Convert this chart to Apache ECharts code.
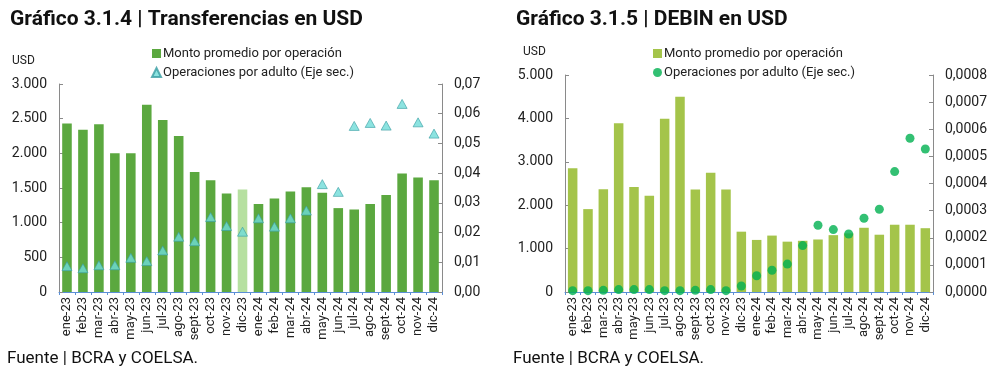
<!DOCTYPE html>
<html>
<head>
<meta charset="utf-8">
<script src="https://cdn.jsdelivr.net/npm/echarts@6/dist/echarts.min.js"></script>
<style>
  html, body { margin: 0; padding: 0; background: #fff; }
  #chart { width: 992px; height: 378px; }
</style>
</head>
<body>
<div id="chart"></div>
<script>
  // months shared by both panels
  var months = ['ene-23', 'feb-23', 'mar-23', 'abr-23', 'may-23', 'jun-23', 'jul-23', 'ago-23',
    'sept-23', 'oct-23', 'nov-23', 'dic-23', 'ene-24', 'feb-24', 'mar-24', 'abr-24', 'may-24',
    'jun-24', 'jul-24', 'ago-24', 'sept-24', 'oct-24', 'nov-24', 'dic-24'];

  // Gráfico 3.1.4 - Transferencias
  var transfMonto = [2430, 2340, 2420, 2000, 2000, 2700, 2480, 2250, 1730, 1610, 1420, 1480,
    1270, 1350, 1450, 1510, 1430, 1210, 1190, 1270, 1400, 1710, 1650, 1610];
  var transfOper = [0.0087, 0.0080, 0.0090, 0.0090, 0.0115, 0.0104, 0.0140, 0.0186, 0.0171,
    0.0252, 0.0222, 0.0203, 0.0248, 0.0220, 0.0248, 0.0274, 0.0363, 0.0337, 0.0559, 0.0569,
    0.0560, 0.0633, 0.0571, 0.0533];
  var transfHighlight = 'dic-23';

  // Gráfico 3.1.5 - DEBIN
  var debinMonto = [2850, 1910, 2370, 3890, 2420, 2220, 3990, 4500, 2360, 2750, 2360, 1390,
    1200, 1300, 1160, 1180, 1210, 1310, 1350, 1480, 1320, 1550, 1550, 1470];
  var debinOper = [0.000005, 0.000005, 0.000006, 0.000009, 0.000009, 0.000009, 0.000005,
    0.000005, 0.000006, 0.000009, 0.000005, 0.000022, 0.00006, 0.00008, 0.000103, 0.000171,
    0.000246, 0.00023, 0.000214, 0.000272, 0.000305, 0.000444, 0.000567, 0.000527];

  var FONT = 'Roboto';
  var TEXT = '#222';

  function miles(v) {
    return String(v).replace(/\B(?=(\d{3})+(?!\d))/g, '.');
  }
  function decimal(n) {
    return function (v) { return v.toFixed(n).replace('.', ','); };
  }

  function xAxis(grid) {
    return {
      type: 'category', gridIndex: grid, data: months,
      axisLine: { lineStyle: { color: '#5b8fd6', width: 1 } },
      axisTick: { show: true, length: 3, lineStyle: { color: '#5b8fd6' } },
      axisLabel: { rotate: 90, fontSize: 13, color: TEXT, fontFamily: FONT, margin: 5, interval: 0 }
    };
  }

  function yAxis(grid, pos, max, step, fmt) {
    return {
      type: 'value', gridIndex: grid, position: pos, min: 0, max: max, interval: step,
      splitLine: { show: false },
      axisLine: { show: true, lineStyle: { color: '#8a8a8a' } },
      axisTick: { show: true, inside: true, length: 4, lineStyle: { color: '#8a8a8a' } },
      axisLabel: { fontSize: 14, color: TEXT, fontFamily: FONT, margin: 12, formatter: fmt }
    };
  }

  // series names in the right panel carry a trailing space so the two legends stay apart
  function legend(left, icon2, names) {
    return {
      orient: 'vertical', left: left, top: 42, itemGap: 6, itemWidth: 9, itemHeight: 9,
      textStyle: { fontSize: 13, color: TEXT, fontFamily: FONT, padding: [0, 0, 0, -3] },
      formatter: function (name) { return name.trim(); },
      data: [{ name: names[0], icon: 'rect' }, { name: names[1], icon: icon2 }]
    };
  }

  var chart = echarts.init(document.getElementById('chart'));

  chart.setOption({
    animation: false,
    textStyle: { fontFamily: FONT },
    title: [
      { text: 'Gráfico 3.1.4 | Transferencias en USD', left: 5, top: 4,
        textStyle: { fontSize: 21, fontWeight: 'bold', color: '#111', fontFamily: FONT } },
      { text: 'Gráfico 3.1.5 | DEBIN en USD', left: 511, top: 4,
        textStyle: { fontSize: 21, fontWeight: 'bold', color: '#111', fontFamily: FONT } }
    ],
    graphic: [
      { type: 'text', left: 12, top: 55, style: { text: 'USD', fontSize: 12, fill: TEXT, fontFamily: FONT } },
      { type: 'text', left: 523, top: 46, style: { text: 'USD', fontSize: 12, fill: TEXT, fontFamily: FONT } },
      { type: 'text', left: 7, top: 350, style: { text: 'Fuente | BCRA y COELSA.', fontSize: 17, fill: '#111', fontFamily: FONT } },
      { type: 'text', left: 513, top: 350, style: { text: 'Fuente | BCRA y COELSA.', fontSize: 17, fill: '#111', fontFamily: FONT } }
    ],
    legend: [
      legend(146, 'triangle', ['Monto promedio por operación', 'Operaciones por adulto (Eje sec.)']),
      legend(648, 'circle', ['Monto promedio por operación ', 'Operaciones por adulto (Eje sec.) '])
    ],
    grid: [
      { left: 59, right: 550, top: 84, bottom: 86 },
      { left: 565, right: 59, top: 75, bottom: 86 }
    ],
    xAxis: [xAxis(0), xAxis(1)],
    yAxis: [
      yAxis(0, 'left', 3000, 500, miles),
      yAxis(0, 'right', 0.07, 0.01, decimal(2)),
      yAxis(1, 'left', 5000, 1000, miles),
      yAxis(1, 'right', 0.0008, 0.0001, decimal(4))
    ],
    series: [
      {
        name: 'Monto promedio por operación', type: 'bar', xAxisIndex: 0, yAxisIndex: 0,
        barWidth: '60%', itemStyle: { color: '#5ba83f' },
        data: transfMonto.map(function (v, i) {
          return months[i] === transfHighlight ? { value: v, itemStyle: { color: '#b6e0a0' } } : v;
        })
      },
      {
        name: 'Operaciones por adulto (Eje sec.)', type: 'scatter', xAxisIndex: 0, yAxisIndex: 1,
        symbol: 'triangle', symbolSize: [10, 9], z: 5,
        itemStyle: { color: '#6fdcd8', borderColor: '#3a9ea3', borderWidth: 0.8 },
        data: transfOper
      },
      {
        name: 'Monto promedio por operación ', type: 'bar', xAxisIndex: 1, yAxisIndex: 2,
        barWidth: '62%', itemStyle: { color: '#a4c44a' },
        data: debinMonto
      },
      {
        name: 'Operaciones por adulto (Eje sec.) ', type: 'scatter', xAxisIndex: 1, yAxisIndex: 3,
        symbol: 'circle', symbolSize: 9, z: 5,
        itemStyle: { color: '#00b050' },
        data: debinOper
      }
    ]
  });
</script>
</body>
</html>
